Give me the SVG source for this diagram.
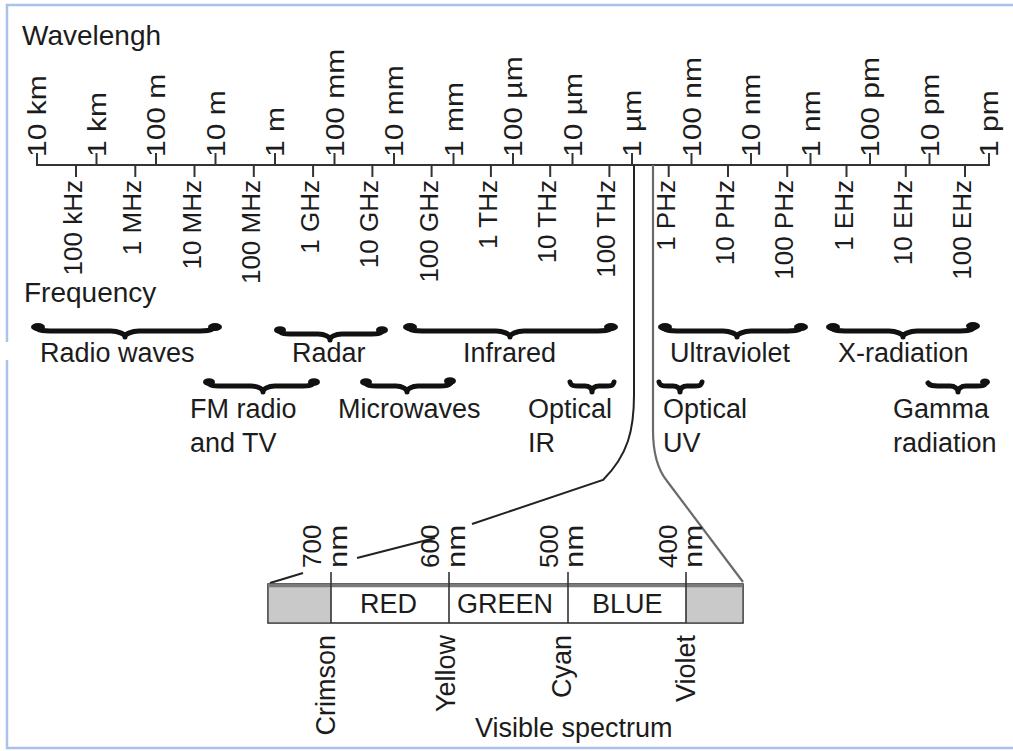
<svg xmlns="http://www.w3.org/2000/svg" width="1013" height="751" viewBox="0 0 1013 751">
<style>
text{font-family:"Liberation Sans",Arial,sans-serif;fill:#1c1c1c}
.h{font-size:27px}
.t{font-size:28px}
.r{font-size:26px}
.w{font-size:30px}
.ax{stroke:#333;stroke-width:2;fill:none}
.br{stroke:#111;stroke-width:5;fill:none;stroke-linecap:round;stroke-linejoin:round}
.blob{fill:#111}
.ln{stroke:#222;stroke-width:2;fill:none}
.ln2{stroke:#6a6a6a;stroke-width:2.2;fill:none}
.dv{stroke:#333;stroke-width:1.6}
</style>
<rect x="0" y="0" width="1013" height="751" fill="#fff"/>
<rect x="7" y="5" width="1020" height="743" fill="none" stroke="#aac1ea" stroke-width="2.5"/>
<rect x="0" y="342" width="14" height="18" fill="#fff"/>

<g id="axis">
<line class="ax" x1="36" y1="165" x2="990" y2="165"/>
<path class="ax" d="M37,153V165M96.5,153V165M156,153V165M215.5,153V165M275,153V165M334.5,153V165M394,153V165M453.5,153V165M513,153V165M572.5,153V165M632,153V165M691.5,153V165M751,153V165M810.5,153V165M870,153V165M929.5,153V165M989,153V165"/>
<path class="ax" d="M76,165V177M135.3,165V177M194.5,165V177M253.8,165V177M313.1,165V177M372.4,165V177M431.6,165V177M490.9,165V177M550.2,165V177M609.4,165V177M668.7,165V177M728,165V177M787.2,165V177M846.5,165V177M905.8,165V177M965,165V177"/>
</g>

<g id="wavelength">
<text class="t" x="22" y="45">Wavelengh</text>
<g class="w">
<text transform="translate(46,157) rotate(-90) scale(1,0.85)">10 km</text>
<text transform="translate(105.5,157) rotate(-90) scale(1,0.85)">1 km</text>
<text transform="translate(165,157) rotate(-90) scale(1,0.85)">100 m</text>
<text transform="translate(224.5,157) rotate(-90) scale(1,0.85)">10 m</text>
<text transform="translate(284,157) rotate(-90) scale(1,0.85)">1 m</text>
<text transform="translate(343.5,157) rotate(-90) scale(1,0.85)">100 mm</text>
<text transform="translate(403,157) rotate(-90) scale(1,0.85)">10 mm</text>
<text transform="translate(462.5,157) rotate(-90) scale(1,0.85)">1 mm</text>
<text transform="translate(522,157) rotate(-90) scale(1,0.85)">100 µm</text>
<text transform="translate(581.5,157) rotate(-90) scale(1,0.85)">10 µm</text>
<text transform="translate(641,157) rotate(-90) scale(1,0.85)">1 µm</text>
<text transform="translate(700.5,157) rotate(-90) scale(1,0.85)">100 nm</text>
<text transform="translate(760,157) rotate(-90) scale(1,0.85)">10 nm</text>
<text transform="translate(819.5,157) rotate(-90) scale(1,0.85)">1 nm</text>
<text transform="translate(879,157) rotate(-90) scale(1,0.85)">100 pm</text>
<text transform="translate(938.5,157) rotate(-90) scale(1,0.85)">10 pm</text>
<text transform="translate(998,157) rotate(-90) scale(1,0.85)">1 pm</text>
</g>
</g>

<g id="frequency" text-anchor="end">
<g class="r">
<text transform="translate(82,180) rotate(-90)">100 kHz</text>
<text transform="translate(141.3,180) rotate(-90)">1 MHz</text>
<text transform="translate(200.5,180) rotate(-90)">10 MHz</text>
<text transform="translate(259.8,180) rotate(-90)">100 MHz</text>
<text transform="translate(319.1,180) rotate(-90)">1 GHz</text>
<text transform="translate(378.4,180) rotate(-90)">10 GHz</text>
<text transform="translate(437.6,180) rotate(-90)">100 GHz</text>
<text transform="translate(496.9,180) rotate(-90)">1 THz</text>
<text transform="translate(556.2,180) rotate(-90)">10 THz</text>
<text transform="translate(615.4,180) rotate(-90)">100 THz</text>
<text transform="translate(674.7,180) rotate(-90)">1 PHz</text>
<text transform="translate(734,180) rotate(-90)">10 PHz</text>
<text transform="translate(793.2,180) rotate(-90)">100 PHz</text>
<text transform="translate(852.5,180) rotate(-90)">1 EHz</text>
<text transform="translate(911.8,180) rotate(-90)">10 EHz</text>
<text transform="translate(971,180) rotate(-90)">100 EHz</text>
</g>
<text class="t" x="24" y="302" text-anchor="start">Frequency</text>
</g>

<g id="connectors">
<path class="ln" d="M634,165 L634,395 C634,430 628,455 603,480 L472,524"/>
<path class="ln" d="M435,538 L357,558"/>
<path class="ln" d="M303,573 L270,583"/>
<path class="ln2" d="M653,165 L653,430 C653,455 658,470 667,481 L743,582"/>
</g>

<g id="bands">
<path class="br" d="M36,328 C40,331 44,331 50,331 L111,331 C118,331 125,334 125,337 C125,334 132,331 139,331 L200,331 C206,331 210,331 214,328"/>
<ellipse class="blob" cx="38" cy="327" rx="7" ry="4"/><ellipse class="blob" cx="215" cy="327" rx="7" ry="4"/>
<text class="h" x="40" y="362">Radio waves</text>

<path class="br" d="M279,331 C282,334 285,334 290,334 L318,334 C325,334 330,337 330,340 C330,337 335,334 342,334 L372,334 C377,334 380,334 383,331"/>
<ellipse class="blob" cx="280" cy="330" rx="6" ry="3.8"/><ellipse class="blob" cx="382" cy="330" rx="6" ry="3.8"/>
<text class="h" x="292" y="362">Radar</text>

<path class="br" d="M408,328 C412,331 416,331 422,331 L496,331 C503,331 510,334 510,337 C510,334 517,331 524,331 L598,331 C604,331 608,331 612,328"/>
<ellipse class="blob" cx="410" cy="327" rx="7" ry="4"/><ellipse class="blob" cx="611" cy="327" rx="7" ry="4"/>
<text class="h" x="463" y="362">Infrared</text>

<path class="br" d="M663,328 C667,331 671,331 677,331 L723,331 C730,331 737,334 737,337 C737,334 744,331 751,331 L788,331 C794,331 798,331 802,328"/>
<ellipse class="blob" cx="665" cy="327" rx="7" ry="4"/><ellipse class="blob" cx="801" cy="327" rx="7" ry="4"/>
<text class="h" x="670" y="362">Ultraviolet</text>

<path class="br" d="M831,328 C835,331 839,331 845,331 L889,331 C896,331 903,334 903,337 C903,334 910,331 917,331 L960,331 C966,331 970,331 974,328"/>
<ellipse class="blob" cx="833" cy="327" rx="7" ry="4"/><ellipse class="blob" cx="973" cy="326" rx="7" ry="4"/>
<text class="h" x="838" y="362">X-radiation</text>

<path class="br" d="M208,383 C211,386 214,386 219,386 L251,386 C258,386 263,389 263,392 C263,389 268,386 275,386 L303,386 C308,386 311,386 314,383"/>
<ellipse class="blob" cx="209" cy="382" rx="6" ry="3.8"/><ellipse class="blob" cx="314" cy="382" rx="6" ry="3.8"/>
<text class="h" x="190" y="418">FM radio</text>
<text class="h" x="190" y="452">and TV</text>

<path class="br" d="M365,383 C368,386 371,386 376,386 L396,386 C402,386 407,389 407,392 C407,389 412,386 418,386 L440,386 C445,386 448,386 451,383"/>
<ellipse class="blob" cx="366" cy="382" rx="6" ry="3.8"/><ellipse class="blob" cx="450" cy="381" rx="6" ry="3.8"/>
<text class="h" x="338" y="418">Microwaves</text>

<path class="br" d="M570,382 C571,386 574,386 579,386 L585,386 C589,386 592,388 592,392 C592,388 595,386 599,386 L606,386 C611,386 613,386 614,382"/>
<text class="h" x="528" y="418">Optical</text>
<text class="h" x="528" y="452">IR</text>

<path class="br" d="M659,382 C660,386 663,386 668,386 L673,386 C677,386 680,388 680,392 C680,388 683,386 687,386 L694,386 C699,386 701,386 702,382"/>
<text class="h" x="663" y="418">Optical</text>
<text class="h" x="663" y="452">UV</text>

<path class="br" d="M928,383 C930,386 933,386 938,386 L950,386 C955,386 958,389 958,392 C958,389 961,386 966,386 L977,386 C982,386 984,386 986,383"/>
<ellipse class="blob" cx="985" cy="382" rx="5" ry="3.5"/>
<text class="h" x="893" y="418">Gamma</text>
<text class="h" x="893" y="452">radiation</text>
</g>

<g id="visible">
<rect x="268" y="584" width="475" height="39" fill="#fff" stroke="#333" stroke-width="1.6"/>
<rect x="268.8" y="584.8" width="62.2" height="37.4" fill="#c9c9c9"/>
<rect x="686" y="584.8" width="56.2" height="37.4" fill="#c9c9c9"/>
<line x1="268" y1="585.5" x2="743" y2="585.5" stroke="#7a7a7a" stroke-width="3.5"/>
<line class="dv" x1="331" y1="572" x2="331" y2="623"/>
<line class="dv" x1="449" y1="572" x2="449" y2="623"/>
<line class="dv" x1="568" y1="572" x2="568" y2="623"/>
<line class="dv" x1="686" y1="572" x2="686" y2="623"/>
<text class="h" x="360" y="613">RED</text>
<text class="h" x="457" y="613">GREEN</text>
<text class="h" x="592" y="613">BLUE</text>
<g class="r">
<text transform="translate(321,568) rotate(-90)">700</text>
<text transform="translate(347,568) rotate(-90) scale(1.2,1)">nm</text>
<text transform="translate(439,568) rotate(-90)">600</text>
<text transform="translate(465,568) rotate(-90) scale(1.2,1)">nm</text>
<text transform="translate(558,568) rotate(-90)">500</text>
<text transform="translate(583,568) rotate(-90) scale(1.2,1)">nm</text>
<text transform="translate(677,568) rotate(-90)">400</text>
<text transform="translate(702,568) rotate(-90) scale(1.2,1)">nm</text>
</g>
<g class="h" text-anchor="end">
<text transform="translate(335,635) rotate(-90)">Crimson</text>
<text transform="translate(455,635) rotate(-90)">Yellow</text>
<text transform="translate(571,635) rotate(-90)">Cyan</text>
<text transform="translate(695,635) rotate(-90)">Violet</text>
</g>
<text class="h" x="475" y="737">Visible spectrum</text>
</g>
</svg>
